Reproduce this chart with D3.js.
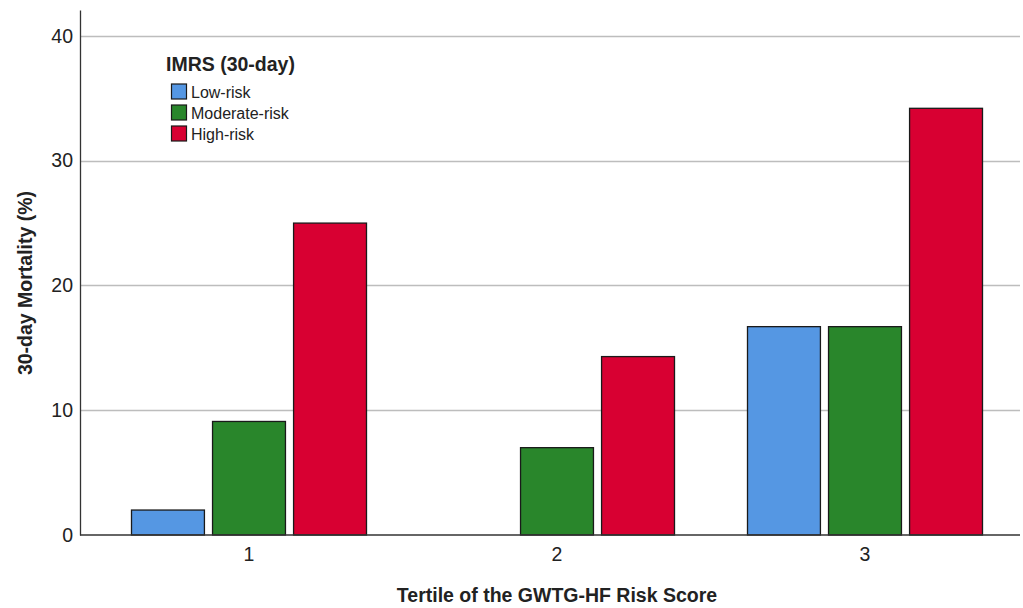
<!DOCTYPE html>
<html>
<head>
<meta charset="utf-8">
<script src="https://cdn.jsdelivr.net/npm/d3@7"></script>
<style>
  body { margin: 0; background: #fff; }
  text { font-family: "Liberation Sans", Arial, sans-serif; fill: #222; }
  .tick_label { font-size: 19.5px; }
  .label_title { font-size: 19.5px; font-weight: bold; }
</style>
</head>
<body>
<svg id="chart" width="1023" height="608"></svg>
<script>
let tertiles = ["1", "2", "3"],
    groups = ["Low-risk", "Moderate-risk", "High-risk"],
    colors = ["#5597e3", "#29862b", "#d80032"],
    low_risk = [2.0, 0, 16.7],
    moderate_risk = [9.1, 7.0, 16.7],
    high_risk = [25.0, 14.3, 34.2],
    y_ticks = [0, 10, 20, 30, 40];

let width = 1023,
    height = 608,
    margins = {left: 80, right: 3, top: 10, bottom: 73};

let svg = d3.select("#chart");

let series = [low_risk, moderate_risk, high_risk];
let data = [];
tertiles.forEach((t, i) => {
  groups.forEach((g, j) => {
    data.push({tertile: t, group: g, value: series[j][i]});
  });
});

let scales = {
  x: d3.scaleBand().domain(tertiles).range([95, width - margins.right - 1]),
  y: d3.scaleLinear().domain([0, 42.08]).range([height - margins.bottom, margins.top]),
  fill: d3.scaleOrdinal().domain(groups).range(colors)
};
scales.inner = d3.scaleBand().domain(groups).range([-117.5, 117.5]).paddingInner(0.1);

// gridlines
svg.append("g")
  .selectAll("line")
  .data(y_ticks.filter(d => d > 0)).enter()
  .append("line")
  .attr("x1", margins.left)
  .attr("x2", width - margins.right)
  .attr("y1", d => Math.round(scales.y(d)) + 0.5)
  .attr("y2", d => Math.round(scales.y(d)) + 0.5)
  .attr("stroke", "#bdbdbd")
  .attr("stroke-width", 1.3);

// bars
svg.append("g")
  .selectAll("rect")
  .data(data.filter(d => d.value > 0)).enter()
  .append("rect")
  .attr("x", d => scales.x(d.tertile) + scales.x.bandwidth() / 2 + scales.inner(d.group))
  .attr("width", scales.inner.bandwidth())
  .attr("y", d => scales.y(d.value))
  .attr("height", d => scales.y(0) - scales.y(d.value))
  .attr("fill", d => scales.fill(d.group))
  .attr("stroke", "#1a1a1a")
  .attr("stroke-width", 1.3);

// axes
let y_axis = svg.append("g")
  .attr("transform", `translate(${margins.left},0)`)
  .call(d3.axisLeft(scales.y).tickValues(y_ticks).tickSize(0).tickPadding(7));
y_axis.selectAll("text").attr("class", "tick_label");
y_axis.select(".domain").attr("stroke", "#333").attr("stroke-width", 1.3);

let x_axis = svg.append("g")
  .attr("transform", `translate(0,${scales.y(0)})`)
  .call(d3.axisBottom(scales.x).tickSize(0).tickPadding(12));
x_axis.selectAll("text").attr("class", "tick_label");
x_axis.select(".domain")
  .attr("d", `M${margins.left},0H${width - margins.right}`)
  .attr("stroke", "#333").attr("stroke-width", 1.3);

svg.append("text")
  .attr("class", "label_title")
  .attr("text-anchor", "middle")
  .attr("transform", `translate(557, 602)`)
  .text("Tertile of the GWTG-HF Risk Score");

svg.append("text")
  .attr("class", "label_title")
  .attr("text-anchor", "middle")
  .attr("transform", `translate(32, 283)rotate(-90)`)
  .text("30-day Mortality (%)");

// legend
let legend = svg.append("g").attr("transform", "translate(166,71)");
legend.append("text")
  .attr("font-size", "19.5px")
  .attr("font-weight", "bold")
  .text("IMRS (30-day)");
let items = legend.selectAll("g.item")
  .data(groups).enter()
  .append("g")
  .attr("transform", (d, i) => `translate(5.5,${13 + i * 21})`);
items.append("rect")
  .attr("width", 15).attr("height", 15)
  .attr("fill", d => scales.fill(d))
  .attr("stroke", "#1a1a1a").attr("stroke-width", 1.2);
items.append("text")
  .attr("x", 19.5).attr("y", 14)
  .attr("font-size", "16px")
  .text(d => d);
</script>
</body>
</html>
